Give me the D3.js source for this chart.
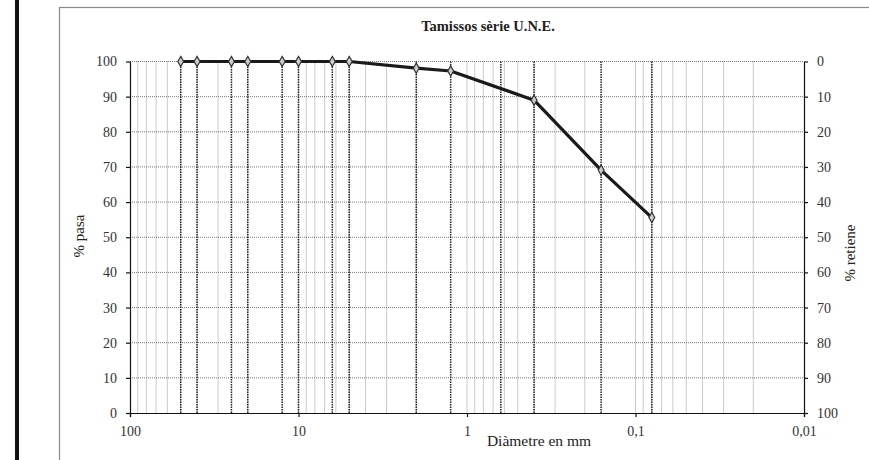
<html>
<head>
<meta charset="utf-8">
<script src="https://d3js.org/d3.v7.min.js"></script>
<style>
body {margin: 0; background: white;}
text {font-family: "Liberation Serif", "Times New Roman", serif; fill: #222;}
.axis path, .axis line {stroke: #111; stroke-width: 1.2;}
.axis text {font-size: 14px; font-family: "Liberation Serif", serif; fill: #333;}
</style>
</head>
<body>
<svg width=869 height=460></svg>
<script>
// sieve sizes (mm) and % passing
var sieves = [50, 40, 25, 20, 12.5, 10, 6.3, 5, 2, 1.25, 0.4, 0.16, 0.08];
var pasa = [100, 100, 100, 100, 100, 100, 100, 100, 98.1, 97.3, 89.0, 69.1, 55.6];
// every sieve of the series gets a drop line, 0.63 has no marker
var dropLines = [50, 40, 25, 20, 12.5, 10, 6.3, 5, 2, 1.25, 0.63, 0.4, 0.16, 0.08];

var xTicks = [100, 10, 1, 0.1, 0.01];
var xTickLabels = ['100', '10', '1', '0,1', '0,01'];
var yTicks = [0, 10, 20, 30, 40, 50, 60, 70, 80, 90, 100];

var plotLeft = 130, plotRight = 804, plotTop = 61.5, plotBottom = 413;

var svg = d3.select('svg');

// page decoration: thick bar on the left and the chart frame
svg.append('rect').attr('x', 15).attr('y', 0).attr('width', 4).attr('height', 460).style('fill', '#111');
svg.append('rect').attr('x', 59.5).attr('y', 7.5).attr('width', 900).attr('height', 500)
  .style('fill', 'white').style('stroke', '#8a8a8a').style('stroke-width', 1.2);

var xs = d3.scaleLog().domain([100, 0.01]).range([plotLeft, plotRight]);
var ys = d3.scaleLinear().domain([0, 100]).range([plotBottom, plotTop]);
var ysR = d3.scaleLinear().domain([100, 0]).range([plotBottom, plotTop]);

// minor log grid
svg.append('g').selectAll('line').data(xs.ticks().filter(function(d) { return d < 99 && d > 0.0101; }))
  .enter().append('line')
  .attr('x1', function(d) { return xs(d); }).attr('x2', function(d) { return xs(d); })
  .attr('y1', plotTop).attr('y2', plotBottom)
  .style('stroke', '#999').style('stroke-width', 1).style('stroke-dasharray', '1,1');

// horizontal grid
svg.append('g').selectAll('line').data(yTicks.filter(function(d) { return d > 0; }))
  .enter().append('line')
  .attr('x1', plotLeft).attr('x2', plotRight)
  .attr('y1', function(d) { return ys(d); }).attr('y2', function(d) { return ys(d); })
  .style('stroke', '#777').style('stroke-width', 1).style('stroke-dasharray', '1,1');

// sieve drop lines
svg.append('g').selectAll('line').data(dropLines)
  .enter().append('line')
  .attr('x1', function(d) { return xs(d); }).attr('x2', function(d) { return xs(d); })
  .attr('y1', plotTop).attr('y2', plotBottom)
  .style('stroke', '#222').style('stroke-width', 1.5).style('stroke-dasharray', '1.5,1');

// axes
var xAxis = d3.axisBottom(xs).tickValues(xTicks).tickSize(4).tickPadding(9)
  .tickFormat(function(d, i) { return xTickLabels[i]; });
svg.append('g').attr('class', 'axis').attr('transform', 'translate(0,' + plotBottom + ')').call(xAxis);

var yAxis = d3.axisLeft(ys).tickValues(yTicks).tickSize(4).tickPadding(9).tickSizeOuter(0);
svg.append('g').attr('class', 'axis').attr('transform', 'translate(' + plotLeft + ',0)').call(yAxis);

var yAxisR = d3.axisRight(ysR).tickValues(yTicks).tickSize(4).tickPadding(9).tickSizeOuter(0);
svg.append('g').attr('class', 'axis').attr('transform', 'translate(' + plotRight + ',0)').call(yAxisR);

// curve
var pts = sieves.map(function(d, i) { return [d, pasa[i]]; });
var line = d3.line().x(function(d) { return xs(d[0]); }).y(function(d) { return ys(d[1]); });
svg.append('path').datum(pts).attr('d', line)
  .style('fill', 'none').style('stroke', '#1a1a1a').style('stroke-width', 3.2).style('stroke-linejoin', 'round');

svg.append('g').selectAll('path').data(pts).enter().append('path')
  .attr('d', d3.symbol().type(d3.symbolDiamond).size(30))
  .attr('transform', function(d) { return 'translate(' + xs(d[0]) + ',' + ys(d[1]) + ')'; })
  .style('fill', '#ccc').style('stroke', '#333').style('stroke-width', 1.2);

// texts
svg.append('text').attr('x', 488).attr('y', 31).attr('text-anchor', 'middle')
  .style('font-size', '14.5px').style('font-weight', 'bold').text('Tamissos sèrie U.N.E.');
svg.append('text').attr('x', 539).attr('y', 446).attr('text-anchor', 'middle')
  .style('font-size', '15.5px').text('Diàmetre en mm');
svg.append('text').attr('transform', 'translate(84,236) rotate(-90)').attr('text-anchor', 'middle')
  .style('font-size', '15px').text('% pasa');
svg.append('text').attr('transform', 'translate(855,253) rotate(-90)').attr('text-anchor', 'middle')
  .style('font-size', '15px').text('% retiene');
</script>
</body>
</html>
